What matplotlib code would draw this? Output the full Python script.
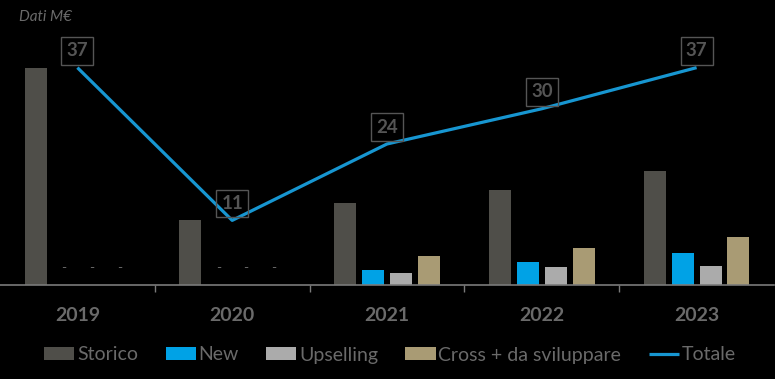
import numpy as np
import matplotlib.pyplot as plt

# ---- data (M€) ----
years = ["2019", "2020", "2021", "2022", "2023"]
storico = [37, 11, 14, 16.2, 19.4]
new = [0, 0, 2.5, 4.0, 5.4]
upselling = [0, 0, 2.0, 3.0, 3.3]
cross = [0, 0, 5.0, 6.3, 8.1]
totale = [37, 11, 24, 30, 37]

series_names = ["Storico", "New", "Upselling", "Cross + da sviluppare"]
series_vals = [storico, new, upselling, cross]
series_cols = ["#4f4e49", "#00a2e6", "#ababab", "#a99b74"]
line_col = "#1796d1"
txt_col = "#6a6a6a"

plt.rcParams["font.family"] = ["Lato", "DejaVu Sans"]

fig = plt.figure(figsize=(7.75, 3.79), dpi=100, facecolor="black")
ax = fig.add_axes([0.0, 1 - 285 / 379, 0.9987, 235 / 379])
ax.set_facecolor("black")

x = np.arange(len(years))
width = 0.142
offsets = [-0.27, -0.09, 0.09, 0.27]

for name, vals, col, off in zip(series_names, series_vals, series_cols, offsets):
    ax.bar(x + off, vals, width, color=col, label=name, zorder=2)
    # zero values are marked with a dash
    for xi, v in zip(x, vals):
        if v == 0:
            ax.annotate("-", xy=(xi + off, 0), xytext=(0, 12),
                        textcoords="offset points", ha="center", va="center",
                        color=txt_col, fontsize=10)

ax.plot(x, totale, color=line_col, linewidth=2.3, label="Totale", zorder=3,
        solid_capstyle="butt")

for xi, v in zip(x, totale):
    ax.annotate(f"{v}", xy=(xi, v), xytext=(0, 6), textcoords="offset points",
                ha="center", va="bottom", fontsize=13.5, fontweight="bold",
                color="#555555", zorder=4, annotation_clip=False,
                bbox=dict(boxstyle="square,pad=0.28", facecolor="none",
                          edgecolor="#555555", linewidth=1.0))

ax.set_xlim(-0.5, 4.5)
ax.set_ylim(0, 40)

for s in ["top", "right", "left"]:
    ax.spines[s].set_visible(False)
ax.spines["bottom"].set_color("#7a7a7a")
ax.spines["bottom"].set_linewidth(1.2)
ax.set_yticks([])

ax.set_xticks(x)
ax.set_xticklabels(years)
ax.set_xticks(x[:-1] + 0.5, minor=True)
ax.tick_params(axis="x", which="major", length=0, pad=16, labelsize=14,
               labelcolor=txt_col)
ax.tick_params(axis="x", which="minor", length=5, width=1.0, color="#7a7a7a",
               direction="out")
for lab in ax.get_xticklabels():
    lab.set_fontweight("bold")

fig.text(0.025, 0.955, "Dati M€", fontsize=11, style="italic", color=txt_col,
         ha="left", va="center")

handles, labels = ax.get_legend_handles_labels()
order = [1, 2, 3, 4, 0]
leg = ax.legend([handles[i] for i in order], [labels[i] for i in order],
                loc="center", bbox_to_anchor=(390 / 775, 1 - 355 / 379),
                bbox_transform=fig.transFigure, ncol=5, frameon=False,
                fontsize=14, handlelength=1.55, handleheight=0.65,
                handletextpad=0.15, columnspacing=1.4)
for t in leg.get_texts():
    t.set_color(txt_col)

fig.savefig("out.png", dpi=100, facecolor="black")
